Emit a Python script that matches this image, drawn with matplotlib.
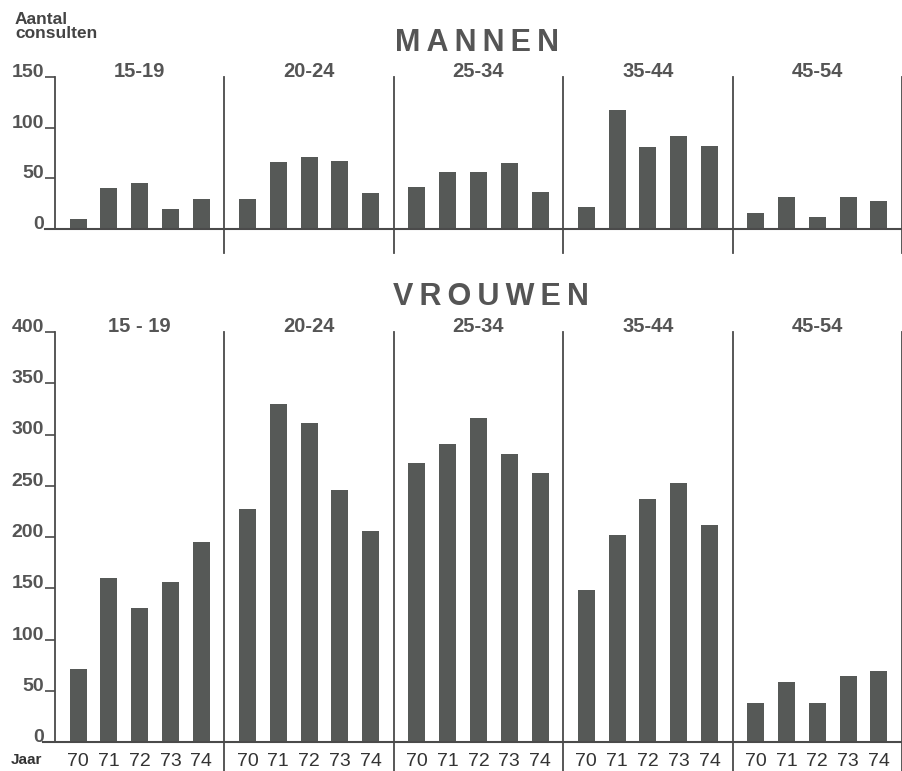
import numpy as np
import matplotlib
matplotlib.use("Agg")
import matplotlib.pyplot as plt

# consulten per leeftijdsgroep en jaar
groepen = ["15-19", "20-24", "25-34", "35-44", "45-54"]
groepen_vrouwen = ["15 - 19", "20-24", "25-34", "35-44", "45-54"]
jaren = ["70", "71", "72", "73", "74"]

mannen = [
    [10, 40, 45, 20, 30],
    [30, 66, 71, 67, 36],
    [41, 56, 56, 65, 37],
    [22, 117, 81, 92, 82],
    [16, 32, 12, 32, 28],
]
vrouwen = [
    [71, 160, 131, 156, 195],
    [227, 330, 311, 246, 206],
    [272, 291, 316, 281, 262],
    [148, 202, 237, 253, 212],
    [38, 59, 38, 64, 69],
]

plt.rcParams['font.family'] = ['Liberation Sans', 'DejaVu Sans']

BAR = '#565957'
TXT = '#555555'
LINE = '#4a4a4a'
W = 902
H = 771
GW = 5.5  # breedte van een groep in data-eenheden


def px2fig(x0, y_top, y_bot):
    return [x0 / W, 1 - y_bot / H, (W - x0) / W, (y_bot - y_top) / H]


def panel(ax, data, labels, ymax, sep_low, x_start):
    for g, vals in enumerate(data):
        xs = g * GW + 0.75 + np.arange(len(vals))
        ax.bar(xs, vals, width=0.55, color=BAR, edgecolor='none', zorder=2)
        ax.annotate(labels[g], xy=(g * GW + GW / 2, 1.0), xycoords=ax.get_xaxis_transform(),
                    xytext=(0, -3), textcoords='offset points',
                    ha='center', va='bottom', fontsize=14.5, fontweight='bold', color=TXT)
        # scheidingslijn rechts van de groep
        ax.axvline((g + 1) * GW, ymin=sep_low, ymax=1.0, color=LINE, lw=1.3,
                   clip_on=False, zorder=1)
    ax.set_xlim(0, GW * len(data))
    ax.set_ylim(0, ymax)
    for s in ['top', 'right', 'bottom']:
        ax.spines[s].set_visible(False)
    ax.spines['left'].set_color(LINE)
    ax.spines['left'].set_linewidth(1.3)
    ax.plot([x_start, GW * len(data)], [0, 0], color=LINE, lw=1.5, clip_on=False, zorder=3)
    ax.set_yticks(np.arange(0, ymax + 1, 50))
    ax.tick_params(axis='y', length=7, width=1.2, color=LINE, pad=1,
                   labelsize=14, labelcolor=TXT)
    for lbl in ax.get_yticklabels():
        lbl.set_fontweight('bold')
        lbl.set_verticalalignment('baseline')


fig = plt.figure(figsize=(W / 100, H / 100), dpi=100)

ax1 = fig.add_axes(px2fig(55, 77, 229))
panel(ax1, mannen, groepen, 150, -0.16, -0.33)
ax1.set_xticks([])

ax2 = fig.add_axes(px2fig(55, 332, 742))
panel(ax2, vrouwen, groepen_vrouwen, 400, -0.075, -0.4)
pos = [g * GW + 0.75 + i for g in range(5) for i in range(5)]
ax2.set_xticks(pos)
ax2.set_xticklabels(jaren * 5, fontsize=14, color='#333333')
ax2.tick_params(axis='x', length=0, pad=8)

fig.text(15 / W, 1 - 12 / H, "Aantal\nconsulten", ha='left', va='top',
         fontsize=12.5, fontweight='bold', color='#444444', linespacing=0.9)
fig.text(11 / W, 1 - 760 / H, "Jaar", ha='left', va='center',
         fontsize=11, fontweight='bold', color='#333333')
fig.text(477 / W, 1 - 43 / H, "\u2009".join("MANNEN"), ha='center', va='center',
         fontsize=22, fontweight='bold', color=TXT)
fig.text(491 / W, 1 - 297 / H, "\u2009".join("VROUWEN"), ha='center', va='center',
         fontsize=22, fontweight='bold', color=TXT)

fig.savefig("out.png", dpi=100)
